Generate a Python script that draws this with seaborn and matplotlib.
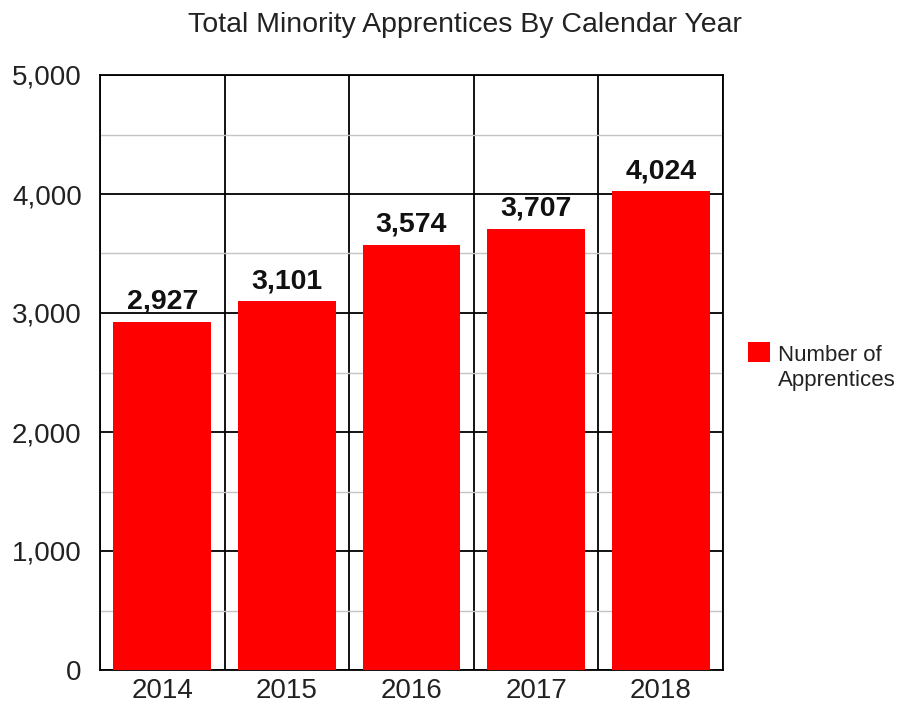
import matplotlib
matplotlib.use("Agg")
import matplotlib.pyplot as plt
import seaborn as sns
from matplotlib.patches import Rectangle

# Chart data
years = ["2014", "2015", "2016", "2017", "2018"]
apprentices = [2927, 3101, 3574, 3707, 4024]
series_name = "Number of\nApprentices"
y_ticks = [0, 1000, 2000, 3000, 4000, 5000]
y_minor = [500, 1500, 2500, 3500, 4500]

sns.set_style("white")
plt.rcParams["font.family"] = ["Liberation Sans", "DejaVu Sans"]

fig = plt.figure(figsize=(8.99, 7.05), dpi=100)
ax = fig.add_axes([100 / 899, 1 - 670 / 705, 623 / 899, 595 / 705])

red = "#ff0000"
sns.barplot(x=years, y=apprentices, color=red, saturation=1, width=0.785,
            linewidth=0, edgecolor="none", ax=ax, zorder=3)

ax.set_xlim(-0.5, len(years) - 0.5)
ax.set_ylim(0, 5000)
ax.set_yticks(y_ticks)
ax.set_yticklabels([f"{v:,}" for v in y_ticks])
ax.set_yticks(y_minor, minor=True)
ax.set_xticks([i - 0.5 for i in range(len(years) + 1)], minor=True)
ax.set_xlabel("")
ax.set_ylabel("")

# grid: black at category edges and thousands, grey at halves
ax.xaxis.grid(True, which="minor", color="black", linewidth=1.3)
ax.xaxis.grid(False, which="major")
ax.yaxis.grid(True, which="major", color="black", linewidth=1.3)
ax.yaxis.grid(True, which="minor", color="#c4c4c4", linewidth=1.0)
ax.set_axisbelow(True)

for s in ax.spines.values():
    s.set_color("black")
    s.set_linewidth(1.3)

ax.tick_params(axis="x", which="major", length=0, pad=6, labelsize=20, labelcolor="#222222")
ax.tick_params(axis="x", which="minor", length=7.2, width=1.3, color="black", direction="out")
ax.tick_params(axis="y", which="major", length=7.2, width=1.3, color="black", pad=6,
               labelsize=20, labelcolor="#222222", direction="out")
ax.tick_params(axis="y", which="minor", length=5, width=1.0, color="#c4c4c4", direction="out")

ax.bar_label(ax.containers[0], labels=[f"{v:,}" for v in apprentices], padding=5,
             fontsize=20.5, fontweight="bold", color="#111111")

fig.text(465 / 899, 1 - 32 / 705, "Total Minority Apprentices By Calendar Year",
         ha="center", va="baseline", fontsize=20.5, color="#222222")

# legend
fig.add_artist(Rectangle((748 / 899, 1 - 362 / 705), 22 / 899, 20.5 / 705,
                         transform=fig.transFigure, facecolor=red, edgecolor="none"))
fig.text(778 / 899, 1 - 386 / 705, series_name, ha="left", va="baseline",
         fontsize=16, color="#222222", linespacing=1.26)

fig.savefig("out.png", dpi=100)
